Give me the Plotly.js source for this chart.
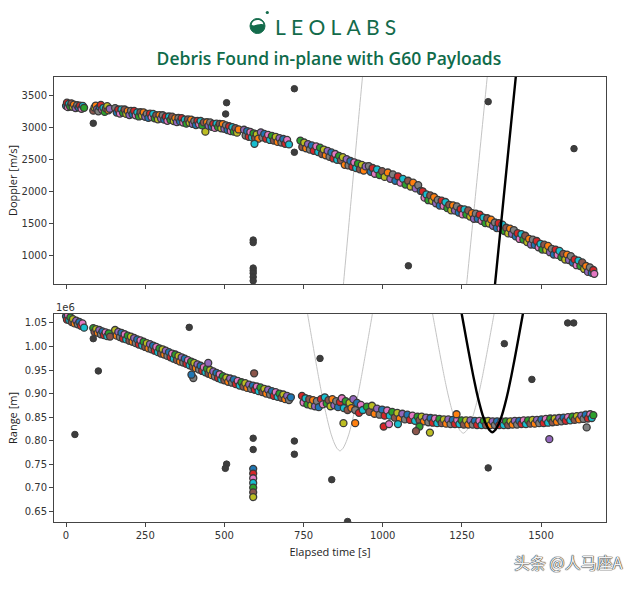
<!DOCTYPE html>
<html>
<head>
<meta charset="utf-8">
<script src="https://cdn.plot.ly/plotly-3.0.1.min.js"></script>
<style>html,body{margin:0;padding:0;background:#fff;}#chart{width:640px;height:589px;}</style>
</head>
<body>
<div id="chart"></div>
<script>
// ---------- DATA ----------
// Doppler track (colored measurements): elapsed time [s], Doppler [m/s]
const dopTrackT = [
 0,3,6,9,13,17,21,25,30,35,40,44,49,53,57,
 86,90,94,98,102,106,110,114,118,122,126,130,134,138,
 155,160,165,170,175,180,185,190,195,200,205,210,215,220,225,230,235,240,245,250,255,260,265,270,275,280,285,290,295,300,305,310,315,320,325,330,335,340,345,350,355,360,365,370,375,380,385,390,395,400,405,410,415,420,425,430,435,440,445,450,455,460,465,470,475,480,485,490,
 495,500,505,510,515,520,525,530,535,540,545,
 562,567,572,577,582,587,592,597,602,607,
 615,620,626,632,638,644,650,656,662,668,674,680,686,692,698,704,
 740,746,752,758,764,770,776,782,
 790,796,802,808,814,820,826,832,838,844,850,856,862,
 868,874,880,886,892,898,904,910,916,922,928,934,940,946,
 956,962,968,975,982,990,998,1006,
 1016,1024,1032,1040,1048,1056,1064,1072,1080,1088,1096,1104,1112,1120,
 1126,1132,1138,1144,1150,1156,1162,1168,1174,1180,1186,1192,1198,1204,1210,1216,1222,1228,1234,1240,1246,1252,1258,1264,1270,1276,1282,1288,1294,1300,1306,1312,1318,1324,1330,1336,1342,1348,1354,1360,1366,1372,1378,1384,1390,1396,1402,1408,1414,1420,1426,1432,1438,1444,1450,1456,1462,1468,1474,1480,1486,1492,1498,1504,1510,1516,1522,1528,1534,1540,1546,1552,1558,1564,1570,1576,1582,1588,1594,1600,1606,1612,1618,1624,1630,1636,1642,1648,1654,1660,1665,1668,
 595
];
const dopTrackV = [
 3345,3395,3325,3375,3335,3385,3330,3365,3310,3355,3320,3350,3300,3345,3315,
 3270,3320,3350,3295,3260,3330,3360,3285,3315,3250,3305,3340,3275,3300,
 3310,3241,3288,3224,3290,3236,3288,3219,3265,3201,3268,3214,3265,3196,3243,3179,3245,3191,3243,3174,3220,3156,3223,3169,3220,3151,3198,3134,3200,3146,3198,3129,3175,3111,3178,3124,3175,3106,3153,3089,3155,3101,3153,3084,3130,3066,3133,3079,3130,3061,3108,3044,3110,3056,3108,3039,3085,2940,3088,3034,3085,3016,3063,2999,3065,3011,3063,2994,
 3060,2985,3040,2965,3025,2950,3010,2940,2995,2925,2975,
 2970,2880,2950,2860,2935,2850,2915,2840,2900,2830,
 2930,2850,2905,2830,2890,2810,2875,2800,2860,2780,2840,2770,2825,2750,2810,2740,
 2800,2700,2770,2680,2745,2660,2725,2640,
 2710,2620,2690,2590,2660,2570,2640,2545,2615,2520,2590,2500,2560,
 2490,2540,2420,2510,2410,2480,2390,2460,2370,2440,2350,2420,2330,2395,
 2400,2310,2370,2280,2350,2260,2320,2230,
 2300,2200,2270,2170,2240,2140,2200,2110,2170,2080,2140,2050,2100,2010,
 2005,1905,1955,1865,1940,1855,1915,1817,1869,1781,1858,1775,1837,1740,1793,1706,1784,1703,1767,1672,1727,1642,1721,1640,1705,1608,1661,1574,1654,1574,1639,1541,1593,1505,1582,1499,1561,1463,1515,1427,1504,1420,1481,1382,1433,1344,1420,1336,1397,1297,1347,1257,1332,1247,1307,1208,1259,1170,1246,1163,1225,1127,1179,1091,1168,1085,1147,1049,1101,1013,1090,1007,1069,971,1023,935,1012,927,987,887,936,845,918,831,889,786,833,740,812,724,770,710,
 2750
];
// Doppler isolated detections (dark)
const dopOutT = [86,507,504,721,721,591,591,591,591,591,591,591,1081,1333,1604];
const dopOutV = [3072,3395,3218,3614,2617,1240,1200,800,760,720,660,600,836,3411,2674];

// Range track (colored measurements): elapsed time [s], range [m]
const rngTrackT = [
 0,3,6,10,14,18,22,27,32,37,42,47,52,57,
 86,90,95,100,105,110,115,120,125,130,135,139,
 155,160,165,170,175,180,185,190,195,200,205,210,215,220,225,230,235,240,245,250,255,260,265,270,275,280,285,290,295,300,305,310,315,320,325,330,335,340,345,350,355,360,365,370,375,380,385,390,395,400,405,410,415,420,425,430,435,440,445,450,455,460,465,470,475,480,485,490,
 495,500,506,512,518,524,530,536,542,548,554,560,566,572,578,584,590,596,602,608,614,620,626,632,638,644,650,656,662,668,674,680,686,692,698,704,710,
 745,750,756,762,768,774,780,786,792,798,
 805,811,817,823,829,835,841,847,853,859,865,
 871,877,883,889,895,901,907,913,919,925,931,937,
 950,958,966,974,982,990,998,1006,1014,
 1022,1030,1038,1046,1054,1062,1070,1078,1086,1094,1102,1110,
 1116,1123,1130,1137,1144,1151,1158,1165,1172,1179,1186,1193,1200,1207,1214,1221,1228,1235,1242,1249,1256,1263,1270,1277,1284,1291,1298,1305,1312,1319,1326,1333,1340,1347,1354,1361,1368,1375,1382,1389,1396,1403,1410,1417,1424,1431,1438,1445,1452,1459,1466,1473,1480,1487,1494,1501,1508,1515,1522,1529,1536,1543,1550,1557,1564,1571,1578,1585,1592,1599,1606,1613,1620,1627,1634,1641,1648,1655,1660,1665,
 594,876,913,449,402,396,1003,1020,1048,1116,1105,1149,1233,1526,1644,
 591,591,591,591,591,591,591
];
const rngTrackV = [
 1064000,1057000,1067000,1056000,1062000,1052000,1058000,1049000,1055000,1047000,1052000,1044000,1049000,1040000,
 1039000,1031000,1037000,1029000,1035000,1026000,1032000,1024000,1030000,1022000,1028000,1021000,
 1035000,1023000,1031000,1020000,1029000,1017000,1026000,1015000,1023000,1012000,1021000,1010000,1018000,1007000,1015000,1004000,1013000,1002000,1010000,999000,1007000,996000,1005000,994000,1002000,991000,999000,988000,996000,985000,994000,983000,991000,980000,988000,977000,985000,974000,983000,971000,980000,968000,977000,966000,974000,963000,971000,960000,968000,957000,965000,954000,962000,951000,959000,948000,956000,945000,953000,942000,950000,939000,947000,936000,944000,933000,941000,930000,
 937000,928000,934000,925000,932000,923000,930000,920000,927000,917000,924000,915000,922000,912000,919000,910000,917000,908000,915000,905000,913000,903000,910000,900000,908000,898000,905000,895000,903000,893000,900000,891000,898000,888000,895000,886000,892000,
 895000,881000,890000,877000,888000,875000,886000,873000,884000,871000,
 888000,877000,892000,879000,886000,873000,888000,875000,884000,871000,882000,
 890000,869000,884000,865000,880000,869000,888000,865000,880000,859000,876000,865000,
 872000,861000,874000,857000,868000,855000,866000,853000,864000,
 853000,861000,849000,859000,847000,857000,845000,855000,844000,853000,842000,851000,
 843000,851000,841000,849000,839000,848000,838000,847000,837000,846000,837000,845000,836000,845000,835000,844000,835000,844000,835000,843000,834000,843000,834000,843000,834000,842000,833000,842000,833000,842000,833000,842000,833000,841000,833000,841000,833000,841000,833000,841000,833000,841000,834000,842000,834000,842000,835000,843000,835000,843000,836000,844000,836000,844000,837000,845000,837000,846000,838000,847000,839000,847000,840000,848000,841000,849000,842000,850000,843000,851000,844000,852000,845000,853000,846000,855000,847000,856000,848000,854000,
 943000,837000,837000,965000,933000,940000,830000,835000,835000,830000,820000,817000,856000,803000,828000,
 740000,730000,720000,710000,700000,690000,680000
];
// Range isolated detections (dark)
const rngOutT = [28,86,102,389,591,591,507,503,721,721,802,839,889,1584,1603,1384,1471,1333];
const rngOutV = [813000,1016600,948000,1040600,805000,781000,750000,741000,799000,771000,974600,717000,628000,1050000,1050000,1006000,930000,742000];

// Predicted passes of the G60 payloads (Doppler)
const pass1DopT = [866,880,895,910,925,940];
const pass1DopV = [10,770,1590,2400,3210,4010];
const pass2DopT = [1255,1270,1285,1300,1315,1335];
const pass2DopV = [50,800,1550,2300,3050,4050];
const pass3DopT = [1345,1360,1375,1390,1405,1425];
const pass3DopV = [70,820,1560,2310,3050,4040];
// Predicted passes (Range)
const pass1RngT = [750,765,775,785,795,805,815,825,835,845,855,865,875,885,895,905,915,925,935,945,955,965,980];
const pass1RngV = [1120000,1060000,1021000,982000,944000,908000,875000,845000,818000,798000,784000,778000,784000,798000,818000,845000,875000,908000,944000,982000,1021000,1060000,1120000];
const pass2RngT = [1139.5,1154.5,1164.5,1174.5,1184.5,1194.5,1204.5,1214.5,1224.5,1234.5,1244.5,1254.5,1264.5,1274.5,1284.5,1294.5,1304.5,1314.5,1324.5,1334.5,1344.5,1354.5,1369.5];
const pass2RngV = [1135000,1080000,1043000,1006000,970000,935000,903000,875000,851000,833000,821000,815600,821000,833000,851000,875000,903000,935000,970000,1006000,1043000,1080000,1135000];
const pass3RngT = [1231,1246,1256,1266,1276,1286,1296,1306,1316,1326,1336,1346,1356,1366,1376,1386,1396,1406,1416,1426,1436,1446,1461];
const pass3RngV = [1137000,1082000,1045000,1008000,972000,937000,905000,877000,853000,835000,823000,817700,823000,835000,853000,877000,905000,937000,972000,1008000,1045000,1082000,1137000];

// Tick labels
const xTickVals = [0,250,500,750,1000,1250,1500];
const dopTickVals = [1000,1500,2000,2500,3000,3500];
const rngTickVals = [650000,700000,750000,800000,850000,900000,950000,1000000,1050000];
const rngTickText = ['0.65','0.70','0.75','0.80','0.85','0.90','0.95','1.00','1.05'];

// ---------- STYLE ----------
const palette = ['#1f77b4','#ff7f0e','#2ca02c','#d62728','#9467bd','#8c564b','#e377c2','#7f7f7f','#bcbd22','#17becf'];
const edge = '#3a3a3a';
const cyc = n => Array.from({length:n},(_,i)=>palette[(i*3)%10]);
const grayLine = {color:'#c4c4c4',width:1,shape:'spline',smoothing:0.6};
const blackLine = {color:'#000',width:2.4,shape:'spline',smoothing:0.6};

const traces = [
 {x:pass1DopT,y:pass1DopV,xaxis:'x',yaxis:'y',mode:'lines',line:grayLine,hoverinfo:'skip'},
 {x:pass2DopT,y:pass2DopV,xaxis:'x',yaxis:'y',mode:'lines',line:grayLine,hoverinfo:'skip'},
 {x:pass1RngT,y:pass1RngV,xaxis:'x2',yaxis:'y2',mode:'lines',line:grayLine,hoverinfo:'skip'},
 {x:pass2RngT,y:pass2RngV,xaxis:'x2',yaxis:'y2',mode:'lines',line:grayLine,hoverinfo:'skip'},
 {x:dopTrackT,y:dopTrackV,xaxis:'x',yaxis:'y',mode:'markers',marker:{size:7,color:cyc(dopTrackT.length),line:{color:edge,width:1.3}}},
 {x:dopOutT,y:dopOutV,xaxis:'x',yaxis:'y',mode:'markers',marker:{size:6.5,color:'#3d3d3d',line:{color:edge,width:1}}},
 {x:rngTrackT,y:rngTrackV,xaxis:'x2',yaxis:'y2',mode:'markers',marker:{size:7,color:cyc(rngTrackT.length),line:{color:edge,width:1.3}}},
 {x:rngOutT,y:rngOutV,xaxis:'x2',yaxis:'y2',mode:'markers',marker:{size:6.5,color:'#3d3d3d',line:{color:edge,width:1}}},
 {x:pass3DopT,y:pass3DopV,xaxis:'x',yaxis:'y',mode:'lines',line:blackLine,hoverinfo:'skip'},
 {x:pass3RngT,y:pass3RngV,xaxis:'x2',yaxis:'y2',mode:'lines',line:blackLine,hoverinfo:'skip'}
];

const tickFont = {family:'DejaVu Sans, sans-serif',size:10,color:'#333'};
const titleFont = {family:'Open Sans, sans-serif',size:11,color:'#222'};
const axBase = {showline:true,mirror:true,linecolor:'#444',linewidth:1,ticks:'outside',ticklen:4,tickcolor:'#444',tickwidth:1,showgrid:false,zeroline:false,tickfont:tickFont};

const layout = {
 width:640,height:589,
 margin:{l:54,r:34,t:77,b:67,pad:0},
 paper_bgcolor:'#fff',plot_bgcolor:'#fff',
 showlegend:false,
 title:{text:'Debris Found in-plane with G60 Payloads',x:0.514,xref:'container',xanchor:'center',y:1-59/589,yref:'container',yanchor:'middle',
        font:{family:'Open Sans, sans-serif',size:17.5,weight:600,color:'#0f6b4a'}},
 xaxis:Object.assign({},axBase,{domain:[0,1],anchor:'y',range:[-38,1705],tickvals:xTickVals,showticklabels:false}),
 yaxis:Object.assign({},axBase,{domain:[0.5348,1],anchor:'x',range:[550,3798],tickvals:dopTickVals,
   title:{text:'Doppler [m/s]',font:titleFont,standoff:1}}),
 xaxis2:Object.assign({},axBase,{domain:[0,1],anchor:'y2',range:[-38,1705],tickvals:xTickVals,
   title:{text:'Elapsed time [s]',font:titleFont,standoff:8}}),
 yaxis2:Object.assign({},axBase,{domain:[0,0.4674],anchor:'x2',range:[627000,1069000],tickvals:rngTickVals,ticktext:rngTickText,
   title:{text:'Range [m]',font:titleFont,standoff:4}}),
 annotations:[
  {text:'L\u2005E\u2005O\u2005L\u2005A\u2005B\u2005S',xref:'paper',yref:'paper',x:(273-54)/552,y:(522-26)/445,xanchor:'left',yanchor:'middle',showarrow:false,
   font:{family:'Lato, sans-serif',size:21,color:'#136b4b'}},
  {text:'1e6',xref:'paper',yref:'paper',x:0,y:(522-307)/445,xanchor:'left',yanchor:'middle',showarrow:false,font:tickFont},
  {text:'头条 @人马座A',xref:'paper',yref:'paper',x:(568-54)/552,y:(522-562)/445,xanchor:'center',yanchor:'middle',showarrow:false,
   font:{family:'Noto Sans CJK SC, sans-serif',size:16,color:'#f2f2f2',shadow:'0 0 1px #333, 0 0 1px #333, 0 0 1px #333'}}
 ],
 shapes:[
  {type:'circle',xref:'paper',yref:'paper',xsizemode:'pixel',ysizemode:'pixel',xanchor:(257.5-54)/552,yanchor:(522-26)/445,
   x0:-7.5,x1:7.5,y0:-7.5,y1:7.5,fillcolor:'#136b4b',line:{color:'#136b4b',width:1}},
  {type:'path',xref:'paper',yref:'paper',xsizemode:'pixel',ysizemode:'pixel',xanchor:(257.5-54)/552,yanchor:(522-26)/445,
   path:'M -5.8 1.2 C -3 -0.8, 2 3.2, 5.8 1.4 C 5.8 7.6, -5.8 7.6, -5.8 1.2 Z',fillcolor:'#ffffff',line:{width:0}},
  {type:'circle',xref:'paper',yref:'paper',xsizemode:'pixel',ysizemode:'pixel',xanchor:(267.3-54)/552,yanchor:(522-12.5)/445,
   x0:-1.6,x1:1.6,y0:-1.6,y1:1.6,fillcolor:'#136b4b',line:{width:0}}
 ]
};

Plotly.newPlot('chart',traces,layout,{staticPlot:true,displayModeBar:false});
</script>
</body>
</html>
